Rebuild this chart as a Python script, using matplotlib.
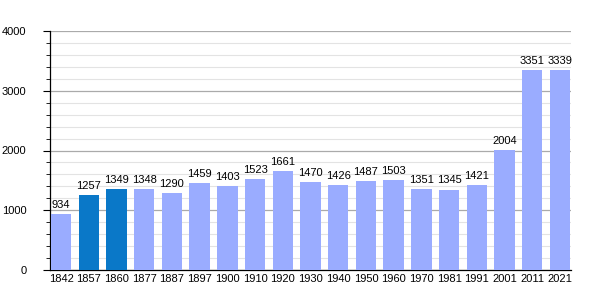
import numpy as np
import matplotlib.pyplot as plt

plt.rcParams['font.family'] = ['Liberation Sans', 'DejaVu Sans']

years = ["1842", "1857", "1860", "1877", "1887", "1897", "1900", "1910", "1920", "1930",
         "1940", "1950", "1960", "1970", "1981", "1991", "2001", "2011", "2021"]
population = [934, 1257, 1349, 1348, 1290, 1459, 1403, 1523, 1661, 1470,
              1426, 1487, 1503, 1351, 1345, 1421, 2004, 3351, 3339]
highlight = ["1857", "1860"]

fig = plt.figure(figsize=(6, 3), dpi=100)
ax = fig.add_axes([50 / 600, 30 / 300, 521 / 600, 239 / 300])

x = np.arange(len(years))
colors = ["#0a78c8" if y in highlight else "#9aacff" for y in years]
ax.bar(x, population, width=0.74, color=colors, zorder=3)

# value labels sit a little above each bar
for xi, v in zip(x, population):
    ax.text(xi, v + 70, str(v), ha="center", va="bottom", fontsize=8, zorder=4)

ax.set_xlim(-0.4, 18.4)
ax.set_ylim(0, 4000)
ax.set_yticks(np.arange(0, 4001, 1000))
ax.set_yticks(np.arange(0, 4001, 200), minor=True)
ax.grid(axis="y", which="major", color="#aaaaaa", linewidth=0.9, zorder=0)
ax.grid(axis="y", which="minor", color="#e3e3e3", linewidth=0.8, zorder=0)
ax.set_xticks(x)
ax.set_xticklabels(years)
ax.tick_params(axis="x", length=0, labelsize=8, pad=3)
ax.tick_params(axis="y", which="major", length=5, labelsize=8, pad=12)
ax.tick_params(axis="y", which="minor", length=3)
for s in ["top", "right"]:
    ax.spines[s].set_visible(False)
ax.spines["left"].set_linewidth(0.9)
ax.spines["bottom"].set_linewidth(0.9)

fig.savefig("out.png", dpi=100)
